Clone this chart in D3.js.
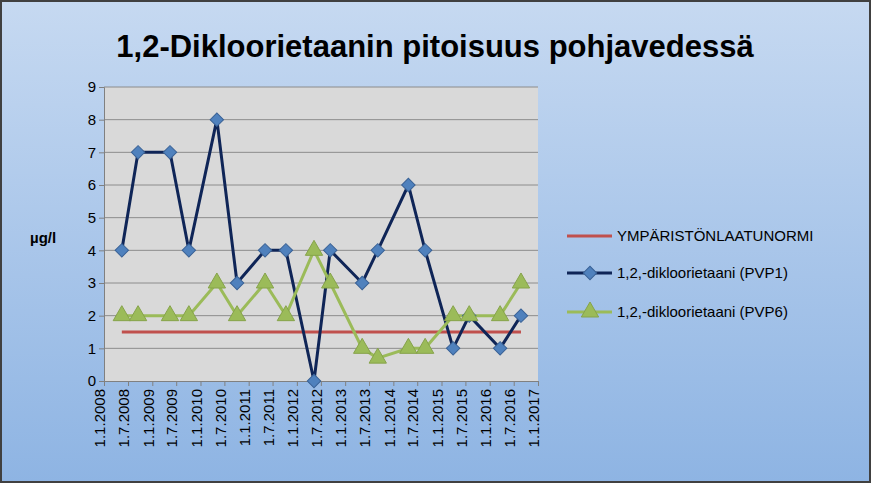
<!DOCTYPE html>
<html><head><meta charset="utf-8">
<script src="https://cdn.jsdelivr.net/npm/d3@7"></script>
<style>body{margin:0}svg{display:block}</style>
</head><body>
<svg id="c" width="871" height="483"></svg>
<script>
const sampleDates = ["2008-05-15","2008-09-15","2009-05-15","2009-10-05","2010-05-05","2010-10-05","2011-05-05","2011-10-10","2012-05-10","2012-09-10","2013-05-10","2013-09-05","2014-04-25","2014-08-30","2015-03-30","2015-07-30","2016-03-20","2016-08-25"];
const pvp1 = [4,7,7,4,8,3,4,4,0,4,3,4,6,4,1,2,1,2];
const pvp6 = [2,2,2,2,3,2,3,2,4,3,1,0.7,1,1,2,2,2,3];
const normDates = ["2008-05-15","2016-08-25"];
const normValues = [1.5,1.5];
const tickLabels = ["1.1.2008","1.7.2008","1.1.2009","1.7.2009","1.1.2010","1.7.2010","1.1.2011","1.7.2011","1.1.2012","1.7.2012","1.1.2013","1.7.2013","1.1.2014","1.7.2014","1.1.2015","1.7.2015","1.1.2016","1.7.2016","1.1.2017"];
const yTicks = [0,1,2,3,4,5,6,7,8,9];
const seriesNames = ["YMPÄRISTÖNLAATUNORMI","1,2,-dikloorietaani (PVP1)","1,2,-dikloorietaani (PVP6)"];

const svg = d3.select("#c");
const defs = svg.append("defs");
const g = defs.append("linearGradient").attr("id","bg").attr("x1",0).attr("y1",0).attr("x2",0).attr("y2",1);
g.append("stop").attr("offset","0%").attr("stop-color","#c6d9f1");
g.append("stop").attr("offset","100%").attr("stop-color","#8eb4e3");
svg.append("rect").attr("x",1).attr("y",1).attr("width",869).attr("height",481).attr("fill","url(#bg)").attr("stroke","#404040").attr("stroke-width",2);

svg.append("text").attr("x",435).attr("y",57).attr("text-anchor","middle")
  .attr("font-family","Liberation Sans, Arial").attr("font-weight","bold").attr("font-size",31).attr("fill","#000")
  .text("1,2-Dikloorietaanin pitoisuus pohjavedessä");

const parse = d3.timeParse("%Y-%m-%d");
const tparse = d3.timeParse("%d.%m.%Y");
const L=104,R=538,T=87,B=381;
const x = d3.scaleTime().domain([parse("2008-01-01"),parse("2017-01-01")]).range([L,R]);
const y = d3.scaleLinear().domain([0,9]).range([B,T]);

svg.append("rect").attr("x",L).attr("y",T).attr("width",R-L).attr("height",B-T).attr("fill","#d9d9d9");
svg.append("g").selectAll("line").data(yTicks.slice(1)).join("line")
  .attr("x1",L).attr("x2",R).attr("y1",d=>y(d)).attr("y2",d=>y(d)).attr("stroke","#8c8c8c").attr("stroke-width",1);

const ya = svg.append("g").attr("transform",`translate(${L},0)`).call(d3.axisLeft(y).tickValues(yTicks).tickSize(5).tickFormat(d3.format("d")));
ya.selectAll("text").attr("font-family","Liberation Sans, Arial").attr("font-size",15).attr("fill","#000");
ya.select(".domain").attr("stroke","#808080");ya.selectAll("line").attr("stroke","#808080");

const tickDates = tickLabels.map(s=>tparse(s));
const xa = svg.append("g").attr("transform",`translate(0,${B})`).call(d3.axisBottom(x).tickValues(tickDates).tickSize(5).tickFormat((d,i)=>tickLabels[i]));
xa.select(".domain").attr("stroke","#808080");xa.selectAll("line").attr("stroke","#808080");
xa.selectAll("text").attr("font-family","Liberation Sans, Arial").attr("font-size",15).attr("fill","#000")
  .attr("text-anchor","end").attr("transform","rotate(-90)").attr("dx","-8").attr("dy","0.05em").attr("y",0);

svg.append("text").attr("x",30).attr("y",243).attr("font-family","Liberation Sans, Arial").attr("font-weight","bold").attr("font-size",15).text("µg/l");

const line = d3.line().x(d=>x(d[0])).y(d=>y(d[1]));
const nd = normDates.map((d,i)=>[parse(d),normValues[i]]);
const d1 = sampleDates.map((d,i)=>[parse(d),pvp1[i]]);
const d6 = sampleDates.map((d,i)=>[parse(d),pvp6[i]]);
svg.append("path").datum(nd).attr("d",line).attr("fill","none").attr("stroke","#c0504d").attr("stroke-width",3);
svg.append("path").datum(d1).attr("d",line).attr("fill","none").attr("stroke","#0f2557").attr("stroke-width",3);
svg.append("path").datum(d6).attr("d",line).attr("fill","none").attr("stroke","#9bbb59").attr("stroke-width",3);
const dia = d3.symbol().type(d3.symbolSquare).size(90);
const tri = d3.symbol().type(d3.symbolTriangle).size(130);
svg.append("g").selectAll("path").data(d1).join("path").attr("d",dia)
  .attr("transform",d=>`translate(${x(d[0])},${y(d[1])}) rotate(45)`).attr("fill","#4f81bd").attr("stroke","#3a6296");
svg.append("g").selectAll("path").data(d6).join("path").attr("d",tri)
  .attr("transform",d=>`translate(${x(d[0])},${y(d[1])})`).attr("fill","#9bbb59").attr("stroke","#86a34a");

const lg = svg.append("g");
const ly=[236,273,312];
seriesNames.forEach((n,i)=>{
  const col=["#c0504d","#0f2557","#9bbb59"][i];
  lg.append("line").attr("x1",567).attr("x2",612).attr("y1",ly[i]).attr("y2",ly[i]).attr("stroke",col).attr("stroke-width",3);
  if(i==1) lg.append("path").attr("d",dia).attr("transform",`translate(590,${ly[i]}) rotate(45)`).attr("fill","#4f81bd").attr("stroke","#3a6296");
  if(i==2) lg.append("path").attr("d",tri).attr("transform",`translate(590,${ly[i]})`).attr("fill","#9bbb59").attr("stroke","#86a34a");
  lg.append("text").attr("x",617).attr("y",ly[i]+5).attr("font-family","Liberation Sans, Arial").attr("font-size",15).text(n);
});
</script>
</body></html>
